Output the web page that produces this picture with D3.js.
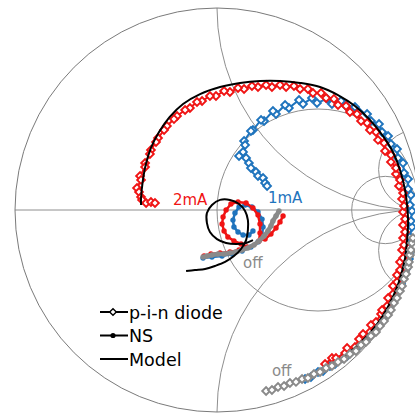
<!DOCTYPE html>
<html>
<head>
<meta charset="utf-8">
<script src="https://cdn.jsdelivr.net/npm/d3@7"></script>
<style>
  body { margin: 0; background: #fff; }
  text { font-family: "DejaVu Sans", Verdana, sans-serif; }
</style>
</head>
<body>
<svg id="chart" width="415" height="413"></svg>
<script>
// Reflection coefficient S11 as [real, imag] pairs.

// p-i-n diode, measured
const pinOff = [
  [0.243,-0.896],[0.272,-0.891],[0.302,-0.876],[0.332,-0.871],[0.361,-0.856],[0.391,-0.851],
  [0.421,-0.837],[0.450,-0.832],[0.480,-0.812],[0.510,-0.802],[0.540,-0.782],[0.569,-0.772],
  [0.599,-0.752],[0.629,-0.738],[0.658,-0.713],[0.688,-0.698],[0.713,-0.668],[0.738,-0.653],
  [0.762,-0.624],[0.787,-0.604],[0.807,-0.574],[0.827,-0.550],[0.847,-0.520],[0.861,-0.495],
  [0.876,-0.460],[0.891,-0.436],[0.906,-0.401],[0.916,-0.376],[0.926,-0.342],[0.936,-0.317],
  [0.946,-0.282],[0.950,-0.257],[0.955,-0.223],[0.960,-0.198],[0.965,-0.163],[0.970,-0.139]
];
const pin1mA = [
  [0.436,-0.837],[0.465,-0.827],[0.500,-0.802],[0.525,-0.797],[0.559,-0.772],[0.584,-0.762],
  [0.619,-0.733],[0.644,-0.723],[0.678,-0.688],[0.703,-0.673],[0.733,-0.639],[0.752,-0.624],
  [0.782,-0.584],[0.802,-0.564],[0.827,-0.525],[0.842,-0.505],[0.866,-0.460],[0.881,-0.436],
  [0.901,-0.391],[0.911,-0.366],[0.931,-0.317],[0.936,-0.292],[0.950,-0.243],[0.950,-0.213],
  [0.960,-0.163],[0.955,-0.134],[0.965,-0.084],[0.960,-0.054],[0.965,-0.005],[0.955,0.025],
  [0.960,0.074],[0.946,0.104],[0.946,0.153],[0.926,0.183],[0.921,0.233],[0.896,0.257],
  [0.891,0.302],[0.861,0.327],[0.847,0.366],[0.817,0.386],[0.802,0.426],[0.762,0.441],
  [0.743,0.475],[0.703,0.485],[0.683,0.510],[0.639,0.515],[0.614,0.540],[0.569,0.525],
  [0.545,0.550],[0.495,0.530],[0.470,0.554],[0.426,0.525],[0.406,0.545],[0.356,0.505],
  [0.337,0.520],[0.292,0.475],[0.277,0.490],[0.233,0.441],[0.218,0.446],[0.178,0.396],
  [0.168,0.391],[0.134,0.342],[0.139,0.322],[0.129,0.287],[0.109,0.267],[0.144,0.257],
  [0.158,0.233],[0.168,0.208],[0.193,0.188],[0.203,0.168],[0.228,0.158],[0.238,0.134],
  [0.248,0.119]
];
const pin2mA = [
  [0.535,-0.762],[0.569,-0.733],[0.589,-0.733],[0.634,-0.708],[0.644,-0.683],[0.683,-0.678],
  [0.703,-0.639],[0.723,-0.614],[0.757,-0.604],[0.762,-0.569],[0.787,-0.554],[0.812,-0.515],
  [0.817,-0.495],[0.842,-0.475],[0.847,-0.436],[0.871,-0.416],[0.871,-0.376],[0.891,-0.356],
  [0.891,-0.322],[0.906,-0.297],[0.906,-0.257],[0.921,-0.238],[0.916,-0.198],[0.926,-0.173],
  [0.921,-0.139],[0.931,-0.109],[0.921,-0.074],[0.931,-0.045],[0.921,-0.010],[0.926,0.020],
  [0.916,0.054],[0.921,0.084],[0.901,0.119],[0.906,0.149],[0.886,0.178],[0.886,0.208],
  [0.861,0.238],[0.861,0.272],[0.832,0.292],[0.827,0.332],[0.797,0.347],[0.787,0.386],
  [0.757,0.396],[0.743,0.431],[0.713,0.441],[0.693,0.475],[0.658,0.485],[0.639,0.515],
  [0.599,0.520],[0.579,0.550],[0.540,0.554],[0.515,0.579],[0.475,0.579],[0.450,0.599],
  [0.411,0.599],[0.381,0.614],[0.342,0.609],[0.312,0.619],[0.272,0.609],[0.243,0.619],
  [0.203,0.609],[0.173,0.614],[0.134,0.599],[0.104,0.604],[0.064,0.584],[0.035,0.589],
  [-0.005,0.564],[-0.035,0.564],[-0.074,0.540],[-0.099,0.535],[-0.134,0.505],[-0.158,0.495],
  [-0.198,0.465],[-0.213,0.450],[-0.248,0.416],[-0.262,0.396],[-0.292,0.356],[-0.302,0.337],
  [-0.327,0.297],[-0.332,0.277],[-0.356,0.233],[-0.356,0.213],[-0.381,0.168],[-0.376,0.149],
  [-0.396,0.109],[-0.386,0.089],[-0.376,0.064],[-0.371,0.050],[-0.351,0.035],[-0.327,0.040],
  [-0.307,0.035]
];

// NS device, measured
const nsOff = [
  [0.307,-0.005],[0.292,-0.030],[0.277,-0.054],[0.267,-0.079],[0.252,-0.104],[0.233,-0.129],
  [0.208,-0.153],[0.183,-0.173],[0.153,-0.188],[0.124,-0.198],[0.094,-0.208],[0.064,-0.213],
  [0.035,-0.218],[0.005,-0.218],[-0.025,-0.223],[-0.050,-0.228],[-0.069,-0.233]
];
const ns1mA = [
  [-0.069,-0.238],[-0.025,-0.233],[0.025,-0.228],[0.074,-0.218],[0.124,-0.203],[0.168,-0.183],
  [0.203,-0.158],[0.223,-0.124],[0.228,-0.084],[0.223,-0.045],[0.203,-0.010],[0.173,0.015],
  [0.139,0.025],[0.109,0.015],[0.089,-0.015],[0.079,-0.050],[0.084,-0.084],[0.104,-0.109],
  [0.129,-0.124],[0.158,-0.124],[0.178,-0.104]
];
const ns2mA = [
  [0.327,-0.030],[0.312,-0.059],[0.292,-0.089],[0.267,-0.119],[0.238,-0.144],[0.208,-0.153],
  [0.213,-0.114],[0.213,-0.069],[0.203,-0.025],[0.178,0.010],[0.144,0.035],[0.104,0.040],
  [0.069,0.030],[0.045,0.000],[0.030,-0.035],[0.025,-0.069],[0.035,-0.104],[0.054,-0.134],
  [0.084,-0.153],[0.119,-0.168],[0.149,-0.183],[0.109,-0.198],[0.064,-0.208],[0.015,-0.213],
  [-0.030,-0.218],[-0.064,-0.228]
];

// circuit model curves
const modelPin = [
  [0.559,-0.772],[0.634,-0.723],[0.698,-0.668],[0.757,-0.609],[0.807,-0.545],[0.851,-0.470],
  [0.886,-0.396],[0.911,-0.322],[0.931,-0.238],[0.941,-0.149],[0.946,-0.059],[0.941,0.025],
  [0.931,0.099],[0.906,0.198],[0.871,0.287],[0.822,0.366],[0.757,0.446],[0.683,0.515],
  [0.599,0.569],[0.510,0.609],[0.411,0.629],[0.312,0.639],[0.213,0.639],[0.114,0.629],
  [0.015,0.609],[-0.084,0.574],[-0.168,0.525],[-0.235,0.460],[-0.287,0.386],[-0.327,0.307],
  [-0.353,0.223],[-0.368,0.139],[-0.376,0.059],[-0.376,0.025]
];
const modelNS = [
  [-0.153,-0.302],[-0.109,-0.297],[-0.059,-0.292],[-0.010,-0.277],[0.040,-0.257],[0.084,-0.228],
  [0.119,-0.193],[0.144,-0.149],[0.153,-0.099],[0.153,-0.050],[0.139,-0.005],[0.109,0.030],
  [0.064,0.050],[0.015,0.050],[-0.025,0.025],[-0.050,-0.015],[-0.050,-0.064],[-0.035,-0.109],
  [0.000,-0.144],[0.045,-0.163],[0.094,-0.168],[0.144,-0.163],[0.178,-0.149]
];

// Smith grid: constant-resistance circles and constant-reactance arcs
const rCircles = [1, 5];
const xArcs = [1, -1, 5, -5];

// bias labels placed at reflection-plane anchors
const labelText = ["2mA", "1mA", "off", "off"];
const labelAnchor = [[-0.218, 0.025], [0.252, 0.035], [0.129, -0.287], [0.272, -0.820]];

const legendNames = ["p-i-n diode", "NS", "Model"];

const colRed = "#f01414", colBlue = "#1f74bd", colGray = "#8a8a8a";
const labelColors = [colRed, colBlue, colGray, colGray];

const x = d3.scaleLinear().domain([-1, 1]).range([15, 419]);
const y = d3.scaleLinear().domain([-1, 1]).range([412, 8]);
const R = x(1) - x(0);

const svg = d3.select("#chart");
svg.append("rect").attr("width", 415).attr("height", 413).attr("fill", "#fff");

svg.append("defs").append("clipPath").attr("id", "unit")
  .append("circle").attr("cx", x(0)).attr("cy", y(0)).attr("r", R);

const grid = svg.append("g")
  .attr("clip-path", "url(#unit)")
  .attr("fill", "none")
  .attr("stroke", "#8e8e8e")
  .attr("stroke-width", 1);

grid.append("line")
  .attr("x1", x(-1)).attr("x2", x(1))
  .attr("y1", y(0)).attr("y2", y(0));

grid.selectAll("circle.r").data(rCircles).join("circle")
  .attr("class", "r")
  .attr("cx", r => x(r / (1 + r)))
  .attr("cy", y(0))
  .attr("r", r => x(1 / (1 + r)) - x(0));

grid.selectAll("circle.x").data(xArcs).join("circle")
  .attr("class", "x")
  .attr("cx", x(1))
  .attr("cy", v => y(1 / v))
  .attr("r", v => x(1 / Math.abs(v)) - x(0));

svg.append("circle")
  .attr("cx", x(0)).attr("cy", y(0)).attr("r", R)
  .attr("fill", "none").attr("stroke", "#7a7a7a").attr("stroke-width", 1);

const line = d3.line().x(d => x(d[0])).y(d => y(d[1]));
const smooth = d3.line().x(d => x(d[0])).y(d => y(d[1])).curve(d3.curveCatmullRom);
const diamond = d3.symbol().type(d3.symbolSquare).size(30);

const plot = svg.append("g");

function pinSeries(data, color) {
  const g = plot.append("g");
  g.append("path").attr("d", line(data))
    .attr("fill", "none").attr("stroke", color).attr("stroke-width", 2);
  g.selectAll("path.m").data(data).join("path")
    .attr("class", "m")
    .attr("d", diamond)
    .attr("transform", d => `translate(${x(d[0])},${y(d[1])}) rotate(45)`)
    .attr("fill", "#fff").attr("stroke", color).attr("stroke-width", 1.9);
}

function nsSeries(data, color, width) {
  const g = plot.append("g");
  g.append("path").attr("d", line(data))
    .attr("fill", "none").attr("stroke", color).attr("stroke-width", width)
    .attr("stroke-linejoin", "round");
  g.selectAll("circle").data(data).join("circle")
    .attr("cx", d => x(d[0])).attr("cy", d => y(d[1])).attr("r", 2.7)
    .attr("fill", color);
}

function modelCurve(data) {
  plot.append("path").attr("d", smooth(data))
    .attr("fill", "none").attr("stroke", "#000").attr("stroke-width", 2);
}

pinSeries(pin1mA, colBlue);
pinSeries(pin2mA, colRed);
modelCurve(modelPin);
pinSeries(pinOff, colGray);

nsSeries(ns1mA, colBlue, 2.5);
nsSeries(ns2mA, colRed, 2.5);
nsSeries(nsOff, colGray, 4.5);
modelCurve(modelNS);

svg.selectAll("text.lbl").data(labelText).join("text")
  .attr("class", "lbl")
  .attr("x", (d, i) => x(labelAnchor[i][0]))
  .attr("y", (d, i) => y(labelAnchor[i][1]))
  .attr("font-size", 15)
  .attr("fill", (d, i) => labelColors[i])
  .text(d => d);

// legend
const legend = svg.append("g").attr("transform", "translate(100,312)");
legendNames.forEach((name, i) => {
  const g = legend.append("g").attr("transform", `translate(0,${i * 23.5})`);
  g.append("line").attr("x1", 0).attr("x2", 28).attr("y1", 0).attr("y2", 0)
    .attr("stroke", "#000").attr("stroke-width", 2);
  if (i === 0) {
    g.append("path")
      .attr("d", d3.symbol().type(d3.symbolSquare).size(22))
      .attr("transform", "translate(13,0) rotate(45)")
      .attr("fill", "#fff").attr("stroke", "#000").attr("stroke-width", 1.4);
  } else if (i === 1) {
    g.append("circle").attr("cx", 13).attr("cy", 0).attr("r", 2.6).attr("fill", "#000");
  }
  g.append("text").attr("x", 29).attr("y", 6.5)
    .attr("font-size", 17.5).attr("fill", "#000").text(name);
});
</script>
</body>
</html>
